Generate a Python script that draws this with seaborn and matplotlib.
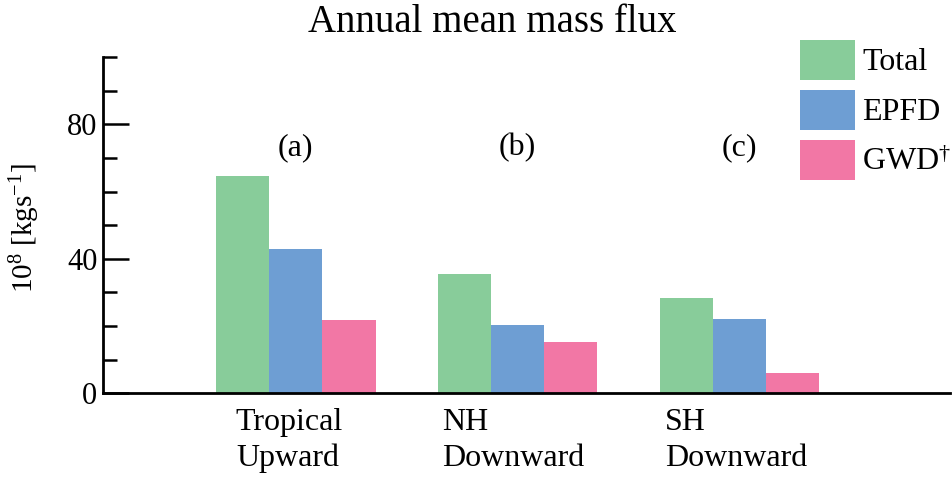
import matplotlib
matplotlib.use("Agg")
import matplotlib.pyplot as plt
from matplotlib.ticker import MultipleLocator
import pandas as pd
import seaborn as sns

# Annual mean mass flux per region, split into components (10^8 kg/s)
regions = ["Tropical\nUpward", "NH\nDownward", "SH\nDownward"]
panel_tags = ["(a)", "(b)", "(c)"]
components = ["Total", "EPFD", "GWD$^{\\dagger}$"]
total = [64.5, 35.6, 28.2]
epfd = [42.8, 20.2, 22.0]
gwd = [21.7, 15.2, 5.9]
colors = ["#88CC9A", "#6E9ED3", "#F277A5"]

df = pd.DataFrame({
    "region": regions * 3,
    "component": [components[0]] * 3 + [components[1]] * 3 + [components[2]] * 3,
    "flux": total + epfd + gwd,
})

sns.set_theme(style="white")
plt.rcParams["font.family"] = ["Liberation Serif", "DejaVu Serif"]
plt.rcParams["mathtext.fontset"] = "custom"
plt.rcParams["mathtext.rm"] = "Liberation Serif"
plt.rcParams["mathtext.it"] = "Liberation Serif:italic"
plt.rcParams["mathtext.bf"] = "Liberation Serif:bold"
plt.rcParams["text.color"] = "black"
plt.rcParams["axes.labelcolor"] = "black"
plt.rcParams["ytick.color"] = "black"
plt.rcParams["xtick.color"] = "black"

fig = plt.figure(figsize=(9.52, 4.8), dpi=100)
ax = fig.add_axes([0.108, 0.181, 0.890, 0.700])

sns.barplot(data=df, x="region", y="flux", hue="component", order=regions,
            hue_order=components, palette=colors, width=0.72, linewidth=0,
            saturation=1, ax=ax, legend=True)

ax.set_xlim(-0.87, 2.95)
ax.set_ylim(0, 100)
ax.yaxis.set_major_locator(MultipleLocator(40))
ax.yaxis.set_minor_locator(MultipleLocator(10))
ax.tick_params(axis="y", which="major", direction="in", length=19, width=1.8,
               labelsize=22, pad=4, left=True)
ax.tick_params(axis="y", which="minor", direction="in", length=10, width=1.8,
               left=True)
ax.set_xticks([])
ax.set_xlabel("")
ax.set_ylabel("10$^{8}$ [kgs$^{-1}$]", fontsize=21)
ax.yaxis.set_label_coords(-0.072, 0.49)

for side in ["top", "right"]:
    ax.spines[side].set_visible(False)
for side in ["left", "bottom"]:
    ax.spines[side].set_color("black")
    ax.spines[side].set_linewidth(2.0)

# Region names under the axis, left-aligned near each group
label_offsets = [-0.27, -0.34, -0.335]
for i, (name, off) in enumerate(zip(regions, label_offsets)):
    ax.text(i + off, -0.045, name, transform=ax.get_xaxis_transform(),
            ha="left", va="top", fontsize=23, linespacing=1.3)

# Panel tags above each group
for i, tag in enumerate(panel_tags):
    ax.text(i, 73, tag, ha="center", va="center", fontsize=23)

fig.text(0.517, 0.953, "Annual mean mass flux", ha="center", va="center",
         fontsize=28)

leg = ax.legend(loc="upper left", bbox_to_anchor=(800 / 952, 1 - 40 / 480),
                bbox_transform=fig.transFigure, frameon=False, fontsize=23,
                handlelength=1.72, handleheight=1.546, handletextpad=0.22,
                labelspacing=0.31, borderpad=0, borderaxespad=0, title=None)

fig.savefig("out.png", dpi=100, facecolor="white")
